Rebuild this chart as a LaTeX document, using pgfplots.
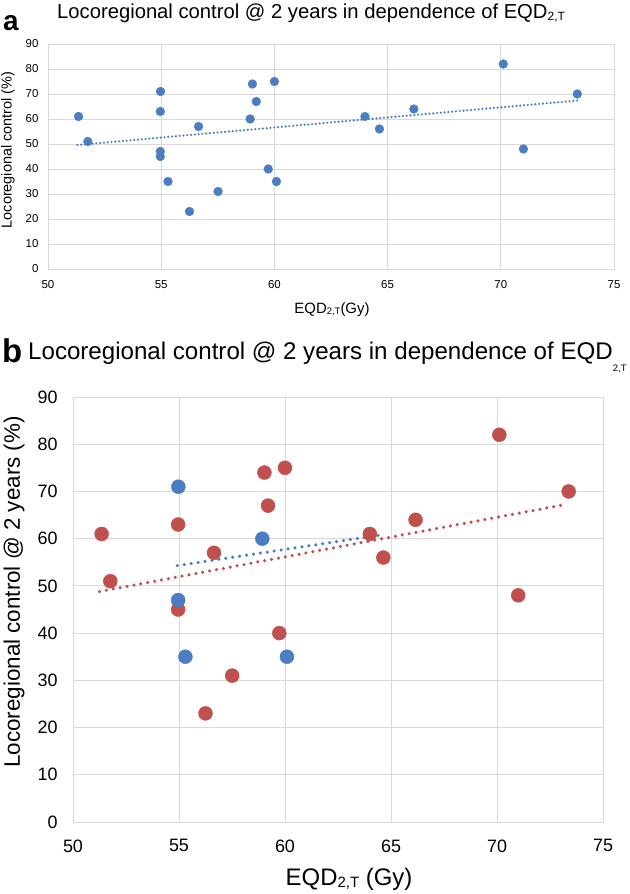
\documentclass[border=0pt]{standalone}
\usepackage{pgfplots}
\pgfplotsset{compat=1.18}
\usepackage{fontspec}
\setmainfont{Liberation Sans}
\definecolor{cblue}{RGB}{74,126,193}
\definecolor{cred}{RGB}{192,80,77}
\definecolor{cgrid}{RGB}{217,217,217}
\pgfplotstableread{
x y
51.35 61
51.76 51
54.97 71
54.96 63
54.96 47
54.96 45
55.30 35
56.25 23
56.65 57
57.51 31
58.93 60
59.03 74
59.20 67
59.73 40
60.00 75
60.09 35
64.00 61
64.64 56
66.16 64
70.11 82
71.00 48
73.38 70
}\alldata
\pgfplotstableread{
x y
54.97 71
54.96 47
55.30 35
58.93 60
60.09 35
}\bluedata
\pgfplotstableread{
x y
51.35 61
51.76 51
54.96 63
54.96 45
56.25 23
56.65 57
57.51 31
59.03 74
59.20 67
59.73 40
60.00 75
64.00 61
64.64 56
66.16 64
70.11 82
71.00 48
73.38 70
}\reddata
\begin{document}
\begin{tikzpicture}
\path[use as bounding box] (0bp,0bp) rectangle (630bp,894bp);
\pgfplotsset{
  common/.style={
    anchor=south west, scale only axis,
    xmin=50, xmax=75, ymin=0, ymax=90,
    xtick={50,55,...,75}, ytick={0,10,...,90},
    grid=major, grid style={cgrid, line width=0.9bp},
    axis line style={cgrid, line width=0.9bp},
    major tick length=0pt,
    /pgf/number format/assume math mode=true,
    clip=false,
  }
}
% panel a
\begin{axis}[common, at={(48bp,625bp)}, width=566bp, height=225bp,
  ticklabel style={font=\fontsize{11.5}{12}\selectfont},
  yticklabel style={xshift=-6bp},
  xticklabel style={yshift=-8bp}]
\addplot[only marks, color=cblue, mark=*, mark size=4.4bp, mark options={draw=none, fill=cblue}] table {\alldata};
\addplot[cblue, line width=2.4bp, line cap=round, dash pattern=on 0pt off 3.8bp] coordinates {(51.3,49.6) (73.4,67.4)};
\end{axis}
% panel b
\begin{axis}[common, at={(73bp,72bp)}, width=530bp, height=425bp,
  ticklabel style={font=\fontsize{18}{19}\selectfont},
  yticklabel style={xshift=-12bp},
  xticklabel style={yshift=-14bp}]
\addplot[only marks, color=cred, mark=*, mark size=7bp, mark options={draw=none, fill=cred}] table {\reddata};
\addplot[only marks, color=cblue, mark=*, mark size=7bp, mark options={draw=none, fill=cblue}] table {\bluedata};
\addplot[cblue, line width=3.5bp, line cap=round, dash pattern=on 0pt off 7bp] coordinates {(54.92,54.3) (64.4,60.7)};
\addplot[cred, line width=3.5bp, line cap=round, dash pattern=on 0pt off 7bp] coordinates {(51.25,48.8) (73.3,67.3)};
\end{axis}
% titles and labels
\node[anchor=base west, inner sep=0] at (3bp,863bp) {\fontsize{28}{30}\selectfont\bfseries a};
\node[anchor=base west, inner sep=0] at (57bp,875bp) {\fontsize{20.3}{22}\selectfont Locoregional control @ 2 years in dependence of EQD\raisebox{-0.15ex}{\fontsize{12}{13}\selectfont 2,T}};
\node[rotate=90, inner sep=0] at (8bp,744bp) {\fontsize{14.5}{15}\selectfont Locoregional control (\%)};
\node[inner sep=0] at (332bp,584bp) {\fontsize{15}{16}\selectfont EQD\raisebox{-0.1ex}{\fontsize{9.5}{10}\selectfont 2,T}(Gy)};
\node[anchor=base west, inner sep=0] at (2bp,531bp) {\fontsize{33}{35}\selectfont\bfseries b};
\node[anchor=base west, inner sep=0] at (28bp,534bp) {\fontsize{24.2}{26}\selectfont Locoregional control @ 2 years in dependence of EQD\raisebox{-0.9ex}{\fontsize{9.5}{10}\selectfont 2,T}};
\node[rotate=90, inner sep=0] at (14bp,302bp) {\fontsize{22.5}{24}\selectfont Locoregional control @ 2 years (\%)};
\node[inner sep=0] at (349bp,15bp) {\fontsize{24}{26}\selectfont EQD\raisebox{-0.15ex}{\fontsize{15}{16}\selectfont 2,T} (Gy)};
\end{tikzpicture}
\end{document}
